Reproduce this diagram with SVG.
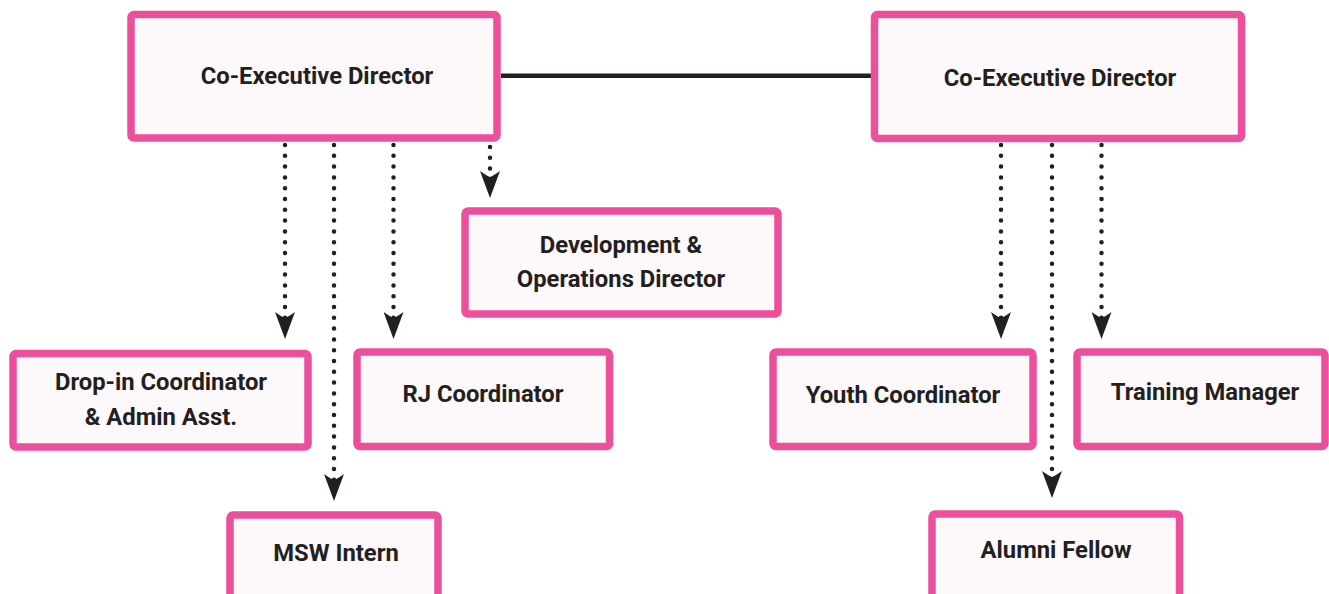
<svg xmlns="http://www.w3.org/2000/svg" width="1329" height="594" viewBox="0 0 1329 594">
  <style>
    .box rect { fill: #FDF8FA; stroke: #EC4F9C; stroke-width: 7.5; }
    .box text { font-family: Roboto, "Liberation Sans", sans-serif; font-weight: 700; font-size: 23.8px; fill: #231F20; text-anchor: middle; }
    .dot { fill: none; stroke: #231F20; stroke-width: 4.5; stroke-linecap: round; stroke-dasharray: 0 10.8; marker-end: url(#head); }
    .solid { stroke: #231F20; stroke-width: 4.5; }
  </style>
  <defs>
    <marker id="head" markerUnits="userSpaceOnUse" viewBox="0 -10 27 20" markerWidth="27" markerHeight="20" refX="6" refY="0" orient="auto">
      <path d="M0,-10 L27,0 L0,10 Q5,3 6,0 Q5,-3 0,-10 Z" fill="#231F20"/>
    </marker>
  </defs>

  <rect width="1329" height="594" fill="#FFFFFF"/>

  <!-- connectors -->
  <g id="connectors">
    <line class="solid" x1="501" y1="75.8" x2="871" y2="75.8"/>
    <!-- left executive reports -->
    <line class="dot" x1="285" y1="145" x2="285" y2="318"/>
    <line class="dot" x1="334" y1="145" x2="334" y2="480"/>
    <line class="dot" x1="393.5" y1="145" x2="393.5" y2="318"/>
    <line class="dot" x1="490" y1="147" x2="490" y2="177"/>
    <!-- right executive reports -->
    <line class="dot" x1="1001" y1="145" x2="1001" y2="318"/>
    <line class="dot" x1="1052" y1="145" x2="1052" y2="477"/>
    <line class="dot" x1="1101.5" y1="145" x2="1101.5" y2="318"/>
  </g>

  <g id="co-exec-left" class="box">
    <rect x="131" y="14.5" width="366" height="123.5" rx="3"/>
    <text x="317" y="83.5">Co-Executive Director</text>
  </g>

  <g id="co-exec-right" class="box">
    <rect x="874.5" y="14.5" width="367" height="124" rx="3"/>
    <text x="1060" y="86">Co-Executive Director</text>
  </g>

  <g id="dev-ops-director" class="box">
    <rect x="465" y="211" width="313" height="103" rx="3"/>
    <text x="621" y="252.5">Development &amp;</text>
    <text x="621" y="286.5">Operations Director</text>
  </g>

  <g id="drop-in-coordinator" class="box">
    <rect x="13" y="353.5" width="295" height="93.5" rx="3"/>
    <text x="161" y="390">Drop-in Coordinator</text>
    <text x="161" y="424.5">&amp; Admin Asst.</text>
  </g>

  <g id="rj-coordinator" class="box">
    <rect x="357" y="352" width="252.5" height="94.5" rx="3"/>
    <text x="483" y="402">RJ Coordinator</text>
  </g>

  <g id="msw-intern" class="box">
    <rect x="230" y="515" width="208" height="90" rx="3"/>
    <text x="336" y="561">MSW Intern</text>
  </g>

  <g id="youth-coordinator" class="box">
    <rect x="773" y="352" width="260" height="94.5" rx="3"/>
    <text x="903" y="402.5">Youth Coordinator</text>
  </g>

  <g id="training-manager" class="box">
    <rect x="1077" y="352" width="248" height="94.5" rx="3"/>
    <text x="1205" y="399.5">Training Manager</text>
  </g>

  <g id="alumni-fellow" class="box">
    <rect x="932" y="514" width="247.5" height="90" rx="3"/>
    <text x="1056" y="558">Alumni Fellow</text>
  </g>
</svg>
